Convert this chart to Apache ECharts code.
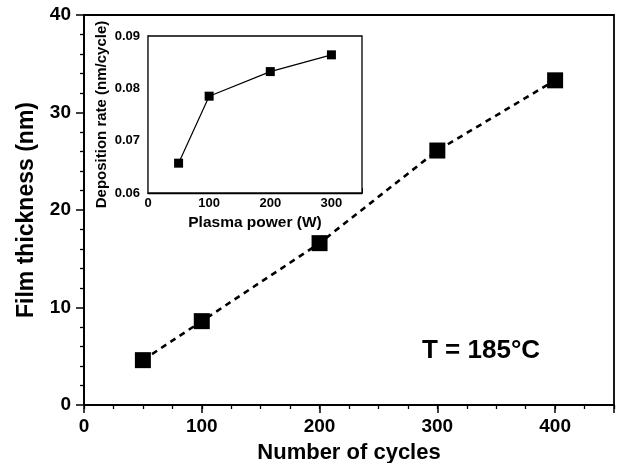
<!DOCTYPE html>
<html>
<head>
<meta charset="utf-8">
<script src="https://cdn.jsdelivr.net/npm/echarts@6/dist/echarts.min.js"></script>
<style>html,body{margin:0;padding:0;background:#fff;}#c{width:619px;height:463px;}</style>
</head>
<body>
<div id="c"></div>
<script>
// Main plot data
const cycles = [50, 100, 200, 300, 400];
const thickness = [4.6, 8.6, 16.6, 26.1, 33.3];
// Inset data
const power = [50, 100, 200, 300];
const depRate = [0.0657, 0.0785, 0.0832, 0.0864];
// Tick settings
const mainXTicks = [0, 100, 200, 300, 400];
const mainYTicks = [0, 10, 20, 30, 40];
const insetXTicks = [0, 100, 200, 300];
const insetYTicks = [0.06, 0.07, 0.08, 0.09];

const FONT = 'Liberation Sans, Arial, sans-serif';
const chart = echarts.init(document.getElementById('c'), null, {renderer: 'canvas'});
const black = '#000';

const option = {
  animation: false,
  backgroundColor: '#fff',
  grid: [
    {left: 84, top: 15, right: 5, bottom: 58, show: true, borderColor: black, borderWidth: 1.8, backgroundColor: 'transparent', outerBoundsMode: 'none', containLabel: false, z: 0},
    {left: 148, top: 36, width: 214, height: 157, show: true, borderColor: black, borderWidth: 1.3, backgroundColor: '#fff', outerBoundsMode: 'none', containLabel: false, z: 5}
  ],
  xAxis: [
    {
      gridIndex: 0, type: 'value', position: 'bottom', min: 0, max: 450, interval: 100,
      axisLine: {show: true, lineStyle: {color: black, width: 1.8}},
      axisTick: {show: true, inside: false, length: 8, lineStyle: {color: black, width: 1.5}},
      axisLabel: {show: true, margin: 12, color: black, fontSize: 19, fontWeight: 'bold', fontFamily: FONT,
        formatter: v => mainXTicks.includes(v) ? String(v) : ''},
      splitLine: {show: false},
      name: 'Number of cycles', nameLocation: 'middle', nameGap: 37,
      nameTextStyle: {color: black, fontSize: 22, fontWeight: 'bold', fontFamily: FONT}
    },
    {
      gridIndex: 0, type: 'value', position: 'bottom', min: 0, max: 450, interval: 25,
      axisLine: {show: false},
      axisTick: {show: true, inside: false, length: 4, lineStyle: {color: black, width: 1.3}},
      axisLabel: {show: false}, splitLine: {show: false}
    },
    {
      gridIndex: 1, type: 'value', position: 'bottom', min: 0, max: 350, interval: 100,
      axisLine: {show: true, lineStyle: {color: black, width: 1.3}},
      axisTick: {show: true, inside: true, length: 5, lineStyle: {color: black, width: 1}},
      axisLabel: {show: true, margin: 4, color: black, fontSize: 13, fontWeight: 'bold', fontFamily: FONT,
        formatter: v => insetXTicks.includes(v) ? String(v) : ''},
      splitLine: {show: false},
      name: 'Plasma power (W)', nameLocation: 'middle', nameGap: 22,
      nameTextStyle: {color: black, fontSize: 15.5, fontWeight: 'bold', fontFamily: FONT}
    },
    {
      gridIndex: 1, type: 'value', position: 'bottom', min: 0, max: 350, interval: 50,
      axisLine: {show: false},
      axisTick: {show: true, inside: true, length: 3, lineStyle: {color: black, width: 1}},
      axisLabel: {show: false}, splitLine: {show: false}
    }
  ],
  yAxis: [
    {
      gridIndex: 0, type: 'value', position: 'left', min: 0, max: 40, interval: 10,
      axisLine: {show: true, lineStyle: {color: black, width: 1.8}},
      axisTick: {show: true, inside: false, length: 8, lineStyle: {color: black, width: 1.5}},
      minorTick: {show: true, splitNumber: 5, length: 4, lineStyle: {color: black, width: 1.3}},
      axisLabel: {show: true, margin: 13, color: black, fontSize: 19, fontWeight: 'bold', fontFamily: FONT,
        formatter: v => mainYTicks.includes(v) ? String(v) : ''},
      splitLine: {show: false}, minorSplitLine: {show: false},
      name: 'Film thickness (nm)', nameLocation: 'middle', nameGap: 46,
      nameTextStyle: {color: black, fontSize: 23, fontWeight: 'bold', fontFamily: FONT}
    },
    {
      gridIndex: 1, type: 'value', position: 'left', min: 0.06, max: 0.09, interval: 0.01,
      axisLine: {show: true, lineStyle: {color: black, width: 1.3}},
      axisTick: {show: true, inside: true, length: 5, lineStyle: {color: black, width: 1}},
      minorTick: {show: true, splitNumber: 5, length: 3, lineStyle: {color: black, width: 1}},
      axisLabel: {show: true, margin: 8, color: black, fontSize: 13, fontWeight: 'bold', fontFamily: FONT,
        formatter: v => v.toFixed(2)},
      splitLine: {show: false}, minorSplitLine: {show: false},
      name: 'Deposition rate (nm/cycle)', nameLocation: 'middle', nameGap: 39,
      nameTextStyle: {color: black, fontSize: 15, fontWeight: 'bold', fontFamily: FONT}
    }
  ],
  series: [
    {
      type: 'line', xAxisIndex: 0, yAxisIndex: 0, z: 2,
      data: cycles.map((x, i) => [x, thickness[i]]),
      symbol: 'rect', symbolSize: 16,
      itemStyle: {color: black},
      lineStyle: {color: black, width: 2.6, type: [6, 5]}
    },
    {
      type: 'line', xAxisIndex: 2, yAxisIndex: 1, z: 10,
      data: power.map((x, i) => [x, depRate[i]]),
      symbol: 'rect', symbolSize: 9,
      itemStyle: {color: black},
      lineStyle: {color: black, width: 1.2, type: 'solid'}
    }
  ],
  graphic: [
    {type: 'text', left: 422, top: 338, z: 20,
     style: {text: 'T = 185°C', fill: black, font: 'bold 26px ' + FONT}}
  ]
};
chart.setOption(option);
</script>
</body>
</html>
